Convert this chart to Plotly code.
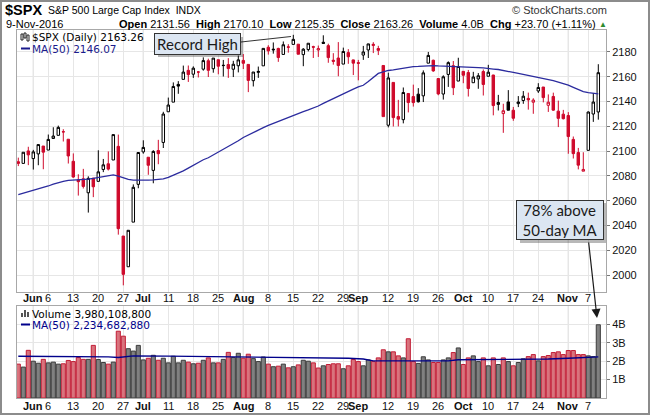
import plotly.graph_objects as go
import pandas as pd

# ---------------- data ----------------
holidays = ["2016-05-30", "2016-07-04", "2016-09-05"]
dates = [d for d in pd.bdate_range("2016-05-26", "2016-11-09")
         if d.strftime("%Y-%m-%d") not in holidays]

opens = [2091.4, 2090.06, 2100.13, 2093.94, 2097.71, 2104.07, 2100.83, 2110.18, 2112.71, 2115.65,
         2109.57, 2091.75, 2076.65, 2077.60, 2066.36, 2078.20, 2075.58, 2085.19, 2089.75, 2092.80,
         2103.81, 2031.45, 2006.67, 2042.69, 2073.17, 2099.34, 2095.05, 2084.43, 2100.42, 2106.97,
         2131.72, 2139.50, 2153.81, 2157.88, 2165.13, 2162.04, 2163.79, 2166.10, 2172.91, 2166.47,
         2173.71, 2168.97, 2169.81, 2166.05, 2168.83, 2173.15, 2169.94, 2156.81, 2163.51, 2168.79,
         2183.76, 2182.24, 2182.81, 2177.97, 2183.74, 2186.08, 2186.24, 2177.84, 2181.90, 2184.24,
         2181.58, 2187.81, 2185.09, 2173.29, 2175.10, 2170.19, 2179.45, 2173.56, 2171.33, 2177.49,
         2181.61, 2185.17, 2182.76, 2169.08, 2120.86, 2155.40, 2127.86, 2125.36, 2146.48, 2143.99,
         2145.94, 2144.58, 2170.94, 2173.29, 2158.54, 2146.04, 2161.85, 2168.90, 2156.51, 2164.33,
         2163.37, 2155.15, 2158.22, 2164.19, 2160.39, 2161.35, 2137.67, 2130.26, 2139.68, 2132.95,
         2138.31, 2140.81, 2142.51, 2139.43, 2148.50, 2151.69, 2136.97, 2144.06, 2132.23, 2129.78,
         2128.68, 2109.43, 2098.80, 2083.79, 2100.59, 2129.92, 2131.56]
highs = [2094.7, 2099.06, 2103.48, 2100.97, 2105.26, 2104.07, 2113.36, 2119.22, 2120.55, 2117.64,
         2109.57, 2098.12, 2081.30, 2085.65, 2079.62, 2078.20, 2100.66, 2093.66, 2099.71, 2113.32,
         2113.32, 2031.45, 2036.09, 2073.13, 2098.94, 2108.71, 2095.05, 2100.72, 2109.08, 2131.71,
         2143.16, 2155.40, 2156.45, 2168.99, 2169.05, 2168.35, 2164.63, 2175.63, 2174.56, 2175.11,
         2173.71, 2173.54, 2174.98, 2172.85, 2177.09, 2178.29, 2170.20, 2163.79, 2168.19, 2182.87,
         2185.44, 2187.66, 2183.41, 2188.45, 2186.28, 2193.81, 2186.24, 2183.08, 2187.03, 2185.00,
         2185.15, 2193.42, 2186.66, 2179.00, 2187.94, 2183.48, 2182.27, 2173.79, 2173.56, 2184.87,
         2186.57, 2187.87, 2184.94, 2169.08, 2163.30, 2155.40, 2141.33, 2151.31, 2146.48, 2153.61,
         2150.80, 2165.11, 2179.99, 2173.75, 2158.54, 2161.13, 2172.40, 2172.67, 2175.30, 2164.41,
         2165.46, 2163.95, 2162.93, 2165.86, 2169.60, 2161.56, 2145.36, 2138.19, 2149.19, 2135.61,
         2144.38, 2148.44, 2147.18, 2142.63, 2154.79, 2151.69, 2145.73, 2147.13, 2140.72, 2133.25,
         2131.45, 2111.76, 2102.56, 2099.07, 2132.00, 2146.87, 2170.10]
lows = [2087.9, 2090.06, 2088.66, 2085.10, 2088.59, 2085.36, 2100.83, 2110.18, 2112.71, 2107.73,
        2089.96, 2078.46, 2064.10, 2069.80, 2050.37, 2062.84, 2075.58, 2083.02, 2084.36, 2092.80,
        2032.57, 1991.68, 2006.67, 2042.69, 2070.00, 2097.90, 2080.86, 2074.02, 2089.39, 2102.48,
        2131.72, 2139.50, 2146.21, 2157.88, 2155.79, 2159.07, 2159.40, 2164.89, 2159.75, 2163.24,
        2161.95, 2160.18, 2159.07, 2159.74, 2163.49, 2166.21, 2147.58, 2152.14, 2159.07, 2168.79,
        2177.85, 2178.61, 2172.00, 2177.97, 2179.42, 2186.08, 2178.14, 2168.50, 2180.46, 2175.13,
        2175.96, 2186.80, 2171.25, 2169.74, 2160.39, 2170.19, 2170.41, 2161.35, 2157.09, 2173.59,
        2175.10, 2179.07, 2177.49, 2127.81, 2119.12, 2119.86, 2119.90, 2122.36, 2131.20, 2135.91,
        2139.17, 2139.57, 2170.94, 2163.97, 2145.04, 2141.55, 2151.79, 2145.20, 2156.51, 2154.77,
        2144.01, 2155.15, 2150.28, 2144.85, 2160.39, 2128.84, 2132.77, 2114.72, 2132.98, 2124.43,
        2135.49, 2138.15, 2133.44, 2130.09, 2146.91, 2139.30, 2131.59, 2132.52, 2119.36, 2125.53,
        2097.85, 2094.00, 2085.23, 2083.79, 2100.59, 2123.56, 2125.35]
closes = [2090.10, 2099.06, 2096.95, 2099.33, 2105.26, 2099.13, 2109.41, 2112.13, 2119.12, 2115.48,
          2096.07, 2079.06, 2075.32, 2071.50, 2077.99, 2071.22, 2083.25, 2088.90, 2085.45, 2113.32,
          2037.41, 2000.54, 2036.09, 2070.77, 2098.86, 2102.95, 2088.55, 2099.73, 2097.90, 2129.90,
          2137.16, 2152.14, 2152.43, 2163.75, 2161.74, 2166.89, 2163.78, 2173.02, 2165.17, 2175.03,
          2168.48, 2169.18, 2166.58, 2170.06, 2173.60, 2170.84, 2157.03, 2163.79, 2164.25, 2182.87,
          2180.89, 2181.74, 2175.49, 2185.79, 2184.05, 2190.15, 2178.15, 2182.22, 2187.02, 2183.87,
          2182.64, 2186.90, 2175.44, 2172.47, 2169.04, 2180.38, 2176.12, 2170.95, 2170.86, 2179.98,
          2186.48, 2186.16, 2181.30, 2127.81, 2159.04, 2127.02, 2125.77, 2147.26, 2139.16, 2139.12,
          2139.76, 2163.12, 2177.18, 2164.69, 2146.10, 2159.93, 2171.37, 2151.13, 2168.27, 2161.20,
          2150.49, 2159.73, 2160.77, 2153.74, 2163.66, 2136.73, 2139.18, 2132.55, 2132.98, 2126.50,
          2139.60, 2144.29, 2141.34, 2141.16, 2151.33, 2143.16, 2139.43, 2133.04, 2126.41, 2126.15,
          2111.72, 2097.94, 2088.66, 2085.18, 2131.52, 2139.56, 2163.26]
# 49 closes before the first visible day (needed for the 50-day average)
prior_closes = [2040.59, 2049.58, 2051.60, 2049.80, 2036.71, 2035.94, 2037.05, 2055.01, 2063.95, 2059.74,
                2072.78, 2066.13, 2045.17, 2066.66, 2041.91, 2047.60, 2041.99, 2061.72, 2082.42, 2082.78,
                2080.73, 2094.34, 2100.80, 2102.40, 2091.48, 2091.58, 2087.79, 2091.70, 2095.15, 2075.81,
                2065.30, 2081.43, 2063.37, 2051.12, 2050.63, 2057.14, 2058.69, 2084.39, 2064.46, 2064.11,
                2046.61, 2066.66, 2047.21, 2047.63, 2040.04, 2052.32, 2048.04, 2076.06, 2090.54]
volume_b = [1.84, 1.68, 2.59, 2.00, 1.89, 2.10, 1.91, 1.95, 1.84, 1.86,
            2.04, 1.98, 2.20, 2.10, 2.10, 2.86, 2.09, 1.93, 1.84, 1.95,
            3.63, 3.36, 2.68, 2.55, 2.86, 2.07, 2.16, 2.32, 2.05, 2.16,
            1.91, 2.27, 1.91, 2.05, 1.95, 1.86, 1.89, 2.05, 2.18, 1.91,
            1.91, 2.10, 2.48, 2.20, 2.43, 2.16, 2.38, 2.14, 1.98, 2.23,
            1.84, 1.70, 1.73, 1.84, 1.64, 1.70, 1.80, 2.05, 2.00, 1.91,
            1.63, 1.75, 1.82, 1.86, 1.86, 1.59, 1.75, 2.09, 1.98, 1.75,
            2.07, 1.98, 2.18, 2.62, 2.51, 2.51, 2.29, 2.18, 3.22, 1.98,
            1.88, 2.24, 2.07, 1.93, 1.93, 2.07, 2.18, 2.47, 2.72, 1.82,
            2.18, 2.29, 1.98, 2.18, 1.75, 2.18, 1.82, 2.18, 1.98, 1.75,
            1.93, 2.13, 2.25, 2.36, 2.02, 2.25, 2.31, 2.47, 2.51, 2.36,
            2.58, 2.58, 2.36, 2.36, 2.29, 2.25, 3.98]
vol_ma_idx = [0, 10, 18, 20, 23, 30, 40, 50, 60, 66, 69, 71, 80, 86, 88, 100, 106, 110, 114, 116]
vol_ma_b = [2.27, 2.26, 2.24, 2.20, 2.29, 2.28, 2.25, 2.22, 2.19, 2.16,
            2.12, 2.02, 2.02, 2.02, 2.08, 2.09, 2.12, 2.16, 2.20, 2.23]

price_ticks = [2000, 2020, 2040, 2060, 2080, 2100, 2120, 2140, 2160, 2180]
vol_ticks_b = [1, 2, 3, 4]

# ---------------- geometry helpers ----------------
W, H = 650, 415
ML, MR, MT, MB = 17, 44, 30, 17
PW, PH = W - ML - MR, H - MT - MB


def px(x):
    return (x - ML) / PW


def py(y):
    return (H - MB - y) / PH


RED = "#cf0a2c"
FONT = "Arial, Liberation Sans, sans-serif"
LFONT = "DejaVu Sans, Verdana, sans-serif"

n = len(closes)
idx = list(range(n))
all_closes = prior_closes + closes
ma50 = [sum(all_closes[k - 49:k + 1]) / 50 for k in range(49, 49 + n)]
prev = [prior_closes[-1]] + closes[:-1]
is_red = [closes[i] < prev[i] for i in idx]

# ticks: month label on first trading day of a month, day number on Mondays
# (a Monday directly before a month start is not labelled)
month_start = [i for i in idx if i > 0 and dates[i].month != dates[i - 1].month]
tickvals, ticktext, month_pos = [], [], []
for i, d in enumerate(dates):
    if i in month_start:
        tickvals.append(i)
        ticktext.append("<b>" + d.strftime("%b") + "</b>")
        month_pos.append(i)
    elif d.weekday() == 0 and (i + 1) not in month_start:
        tickvals.append(i)
        ticktext.append(str(d.day))

fig = go.Figure()

for red in (False, True):
    sel = [i for i in idx if is_red[i] == red]
    col = RED if red else "#000000"
    fig.add_trace(go.Candlestick(
        x=sel, open=[opens[i] for i in sel], high=[highs[i] for i in sel],
        low=[lows[i] for i in sel], close=[closes[i] for i in sel],
        increasing=dict(line=dict(color=col, width=1), fillcolor="white"),
        decreasing=dict(line=dict(color=col, width=1), fillcolor=col),
        whiskerwidth=0, showlegend=False, hoverinfo="skip", xaxis="x", yaxis="y"))

fig.add_trace(go.Scatter(x=idx, y=ma50, mode="lines", line=dict(color="#2b2b9e", width=1.3),
                         showlegend=False, hoverinfo="skip", xaxis="x", yaxis="y"))

for red in (True, False):
    sel = [i for i in idx if is_red[i] == red]
    fig.add_trace(go.Bar(
        x=sel, y=[volume_b[i] * 1e9 for i in sel], width=0.82,
        marker=dict(color="#d8737d" if red else "#808080",
                    line=dict(color="#c21d36" if red else "#3c3c3c", width=1)),
        showlegend=False, hoverinfo="skip", xaxis="x2", yaxis="y2"))

fig.add_trace(go.Scatter(x=vol_ma_idx, y=[v * 1e9 for v in vol_ma_b], mode="lines",
                         line=dict(color="#00008b", width=1.3), showlegend=False,
                         hoverinfo="skip", xaxis="x2", yaxis="y2"))

xr = [-0.26, 117.54]
xcommon = dict(range=xr, tickmode="array", tickvals=tickvals, showticklabels=False,
               showgrid=True, gridcolor="#e6e6e6", gridwidth=1, showline=True, mirror=True,
               automargin=False, linecolor="#a8a8a8", linewidth=1, ticks="", zeroline=False,
               fixedrange=True)
ycommon = dict(side="right", showgrid=True, gridcolor="#e6e6e6", showline=True, mirror=True,
               linecolor="#a8a8a8", ticks="outside", ticklen=3, tickcolor="#777", automargin=False,
               tickfont=dict(family=FONT, size=11, color="#111"), zeroline=False,
               fixedrange=True)

fig.update_layout(
    width=W, height=H, margin=dict(l=ML, r=MR, t=MT, b=MB, autoexpand=False),
    paper_bgcolor="white", plot_bgcolor="white", barmode="overlay",
    xaxis=dict(domain=[0, 1], anchor="y", rangeslider=dict(visible=False), **xcommon),
    yaxis=dict(domain=[py(292), 1], range=[1986.3, 2197.7], tickvals=price_ticks, **ycommon),
    xaxis2=dict(domain=[0, 1], anchor="y2", **xcommon),
    yaxis2=dict(domain=[0, py(306)], range=[0, 5.0e9], tickvals=[v * 1e9 for v in vol_ticks_b],
                ticktext=[f"{v}B" for v in vol_ticks_b], **ycommon),
)

shapes = []
# darker month grid lines
for m in month_pos:
    for yr in ("y domain", "y2 domain"):
        shapes.append(dict(type="line", xref="x", yref=yr, x0=m, x1=m, y0=0, y1=1,
                           line=dict(color="#c4c4c4", width=1), layer="below"))
# outer frame
shapes.append(dict(type="rect", xref="paper", yref="paper", x0=px(1), x1=px(649), y0=py(414),
                   y1=py(1), line=dict(color="#8c8c8c", width=2)))
# legend icons
shapes.append(dict(type="line", xref="paper", yref="paper", x0=px(21), x1=px(30), y0=py(48.5),
                   y1=py(48.5), line=dict(color="#1a1a8c", width=2)))
shapes.append(dict(type="line", xref="paper", yref="paper", x0=px(21), x1=px(30), y0=py(324.5),
                   y1=py(324.5), line=dict(color="#00008b", width=2)))
for (x0, y0, y1) in [(21, 34, 40), (24, 33, 38), (27, 35, 41)]:
    shapes.append(dict(type="rect", xref="paper", yref="paper", x0=px(x0), x1=px(x0 + 2),
                       y0=py(y1), y1=py(y0), line=dict(color="#222", width=1), fillcolor="white"))
for (x0, h) in [(21, 4), (24, 7), (27, 5)]:
    shapes.append(dict(type="rect", xref="paper", yref="paper", x0=px(x0), x1=px(x0 + 2),
                       y0=py(317), y1=py(317 - h), line=dict(width=0), fillcolor="#555"))
# record-high leader line
shapes.append(dict(type="line", xref="paper", yref="paper", x0=px(241), y0=py(42), x1=px(291),
                   y1=py(36.5), line=dict(color="#333", width=1)))
# callout shadows
for (x0, y0, x1, y1) in [(155, 34, 240, 54), (517, 200, 603, 240)]:
    shapes.append(dict(type="rect", xref="paper", yref="paper", x0=px(x0 + 3), x1=px(x1 + 3),
                       y0=py(y1 + 3), y1=py(y0 + 3), line=dict(width=0),
                       fillcolor="rgba(0,0,0,0.28)", layer="above"))
fig.update_layout(shapes=shapes)

ann = []


def text(x, y, s, size=11, color="#000", family=FONT, anchor="left"):
    ann.append(dict(xref="paper", yref="paper", x=px(x), y=py(y), text=s, showarrow=False,
                    xanchor=anchor, yanchor="middle", borderpad=0,
                    font=dict(family=family, size=size, color=color)))


# date labels under both panels (placed at the axis tick positions)
for tv, tt in zip(tickvals, ticktext):
    for xref, ypix in (("x", 297.5), ("x2", 406)):
        ann.append(dict(xref=xref, yref="paper", x=tv, y=py(ypix), text=tt, showarrow=False,
                        xanchor="center", yanchor="middle", borderpad=0,
                        font=dict(family=FONT, size=11, color="#111")))

text(4, 10, "<b>$SPX</b>", size=14.5)
text(47, 10.5, "S&P 500 Large Cap Index  INDX", size=10.5)
text(608, 10.5, "© StockCharts.com", size=11, color="#333", anchor="right")
text(5, 24, "9-Nov-2016", size=11)
text(597, 24, "<b>Open</b> 2131.56  <b>High</b> 2170.10  <b>Low</b> 2125.35  <b>Close</b> 2163.26  "
     "<b>Volume</b> 4.0B  <b>Chg</b> +23.70 (+1.11%)", size=11, anchor="right")
text(598, 24, "▲", size=8, color="#2e8b2e")
text(31, 37, "$SPX (Daily) 2163.26", size=10.5, family=LFONT)
text(31, 48.5, "MA(50) 2146.07", size=10.5, color="#1a1a8c", family=LFONT)
text(31, 313.5, "Volume 3,980,108,800", size=10.5, family=LFONT)
text(31, 324.5, "MA(50) 2,234,682,880", size=10.5, color="#00008b", family=LFONT)

# callout boxes
ann.append(dict(xref="paper", yref="paper", x=px(197.5), y=py(44), text="Record High",
                showarrow=False, xanchor="center", yanchor="middle", width=83, height=18,
                bgcolor="#dce6f2", bordercolor="#333", borderwidth=1, borderpad=1,
                font=dict(family="Lato, Open Sans, sans-serif", size=15, color="#1a1a1a")))
ann.append(dict(xref="paper", yref="paper", x=px(560), y=py(220), text="78% above<br>50-day MA",
                showarrow=False, xanchor="center", yanchor="middle", width=84, height=36,
                bgcolor="#dce6f2", bordercolor="#333", borderwidth=1, borderpad=1,
                font=dict(family="Lato, Open Sans, sans-serif", size=15, color="#1a1a1a")))
ann.append(dict(xref="paper", yref="paper", x=px(597), y=py(318), ax=588.5 - 597, ay=241 - 318,
                axref="pixel", ayref="pixel", text="", showarrow=True, arrowhead=2,
                arrowsize=1.5, arrowwidth=1.2, arrowcolor="#1a1a1a", standoff=0))
fig.update_layout(annotations=ann)

fig.write_html("out.html", config={"displayModeBar": False})
